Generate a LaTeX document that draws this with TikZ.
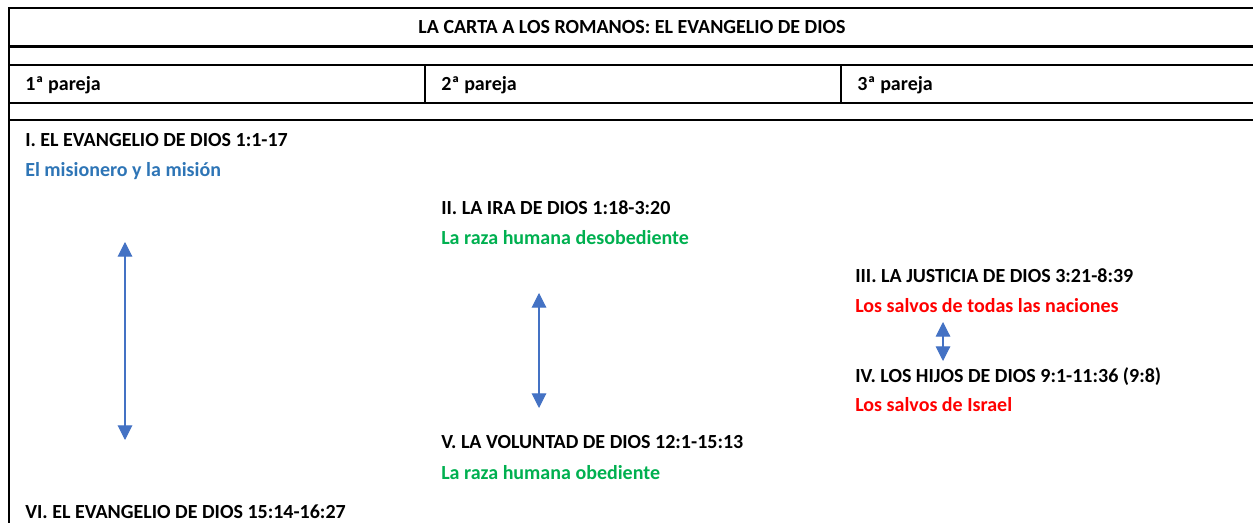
\documentclass[tikz,border=0pt]{standalone}
\usepackage{fontspec}
\setmainfont{Carlito}
\usetikzlibrary{arrows.meta}
\definecolor{misionblue}{RGB}{46,117,182}
\definecolor{razagreen}{RGB}{0,176,80}
\definecolor{salvosred}{RGB}{255,0,0}
\definecolor{linkblue}{RGB}{68,114,196}

\begin{document}
\begin{tikzpicture}[x=0.75pt, y=-0.75pt, font=\fontsize{15}{17}\selectfont\bfseries,
	rule/.style={line width=1.8pt},
	lbl/.style={anchor=base west, inner sep=0pt},
	link/.style={linkblue, line width=0.8pt, {Triangle[width=11pt,length=11pt]}-{Triangle[width=11pt,length=11pt]}}]
	\useasboundingbox (0,0) rectangle (1253,523);

	% table frame
	\draw [rule] (9,523) -- (9,8) -- (1253,8);
	\draw [rule] (9,46.5) -- (1253,46.5);
	\draw [rule] (9,65) -- (1253,65);
	\draw [rule] (9,103) -- (1253,103);
	\draw [rule] (9,120) -- (1253,120);
	\draw [rule] (425,65) -- (425,103);
	\draw [rule] (841,65) -- (841,103);

	\node (titulo) [anchor=base, inner sep=0pt] at (632,33.5) {LA CARTA A LOS ROMANOS: EL EVANGELIO DE DIOS};
	\node (par1) [lbl] at (25,91) {1ª pareja};
	\node (par2) [lbl] at (441,91) {2ª pareja};
	\node (par3) [lbl] at (857,91) {3ª pareja};

	\node (sec1) [lbl] at (25,147) {I. EL EVANGELIO DE DIOS 1:1-17};
	\node (sub1) [lbl, text=misionblue] at (25,177) {El misionero y la misión};
	\node (sec2) [lbl] at (441,215) {II. LA IRA DE DIOS 1:18-3:20};
	\node (sub2) [lbl, text=razagreen] at (441,245) {La raza humana desobediente};
	\node (sec3) [lbl] at (855,283) {III. LA JUSTICIA DE DIOS 3:21-8:39};
	\node (sub3) [lbl, text=salvosred] at (855,313) {Los salvos de todas las naciones};
	\node (sec4) [lbl] at (855,383) {IV. LOS HIJOS DE DIOS 9:1-11:36 (9:8)};
	\node (sub4) [lbl, text=salvosred] at (855,412) {Los salvos de Israel};
	\node (sec5) [lbl] at (441,449) {V. LA VOLUNTAD DE DIOS 12:1-15:13};
	\node (sub5) [lbl, text=razagreen] at (441,480) {La raza humana obediente};
	\node (sec6) [lbl] at (25,518) {VI. EL EVANGELIO DE DIOS 15:14-16:27};

	% parejas
	\coordinate (p1a) at (125,242);
	\coordinate (p1b) at (125,440);
	\coordinate (p2a) at (539,293);
	\coordinate (p2b) at (539,408);
	\coordinate (p3a) at (943,322);
	\coordinate (p3b) at (943,361);
	\draw [link] (p1a) -- (p1b);
	\draw [link] (p2a) -- (p2b);
	\draw [link] (p3a) -- (p3b);
\end{tikzpicture}
\end{document}
